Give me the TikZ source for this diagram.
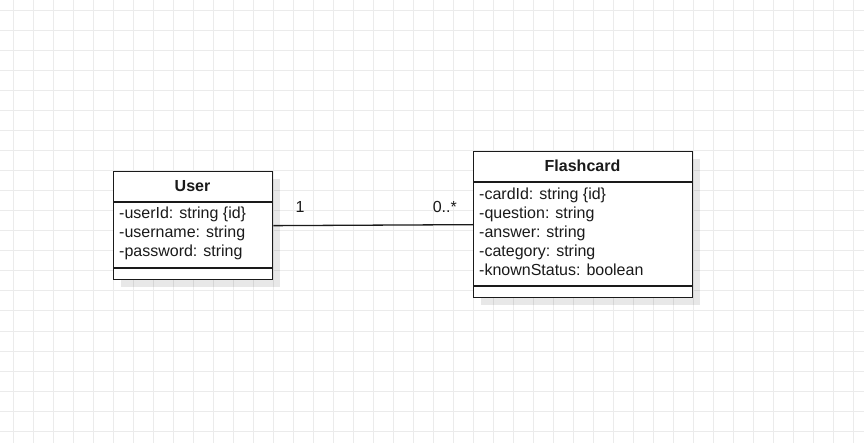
\documentclass[tikz,border=0pt]{standalone}
\usepackage{fontspec}
\setmainfont{Liberation Sans}
\definecolor{gridcol}{HTML}{EBEBEB}
\definecolor{inkcol}{HTML}{1A1A1A}
\tikzset{
  gridline/.style={draw=gridcol, line width=1pt},
  umlbox/.style={draw=inkcol, line width=1.3pt, fill=white, inner sep=0pt},
  divider/.style={draw=inkcol, line width=1.3pt},
  shadowbox/.style={fill=black, opacity=0.09, draw=none},
  attr/.style={anchor=base west, inner sep=0pt, text=inkcol, font=\fontsize{16}{19}\selectfont},
  umltitle/.style={anchor=base, inner sep=0pt, text=inkcol, font=\bfseries\fontsize{16}{19}\selectfont},
  connector/.style={draw=inkcol, line width=1.3pt},
}
\begin{document}
\begin{tikzpicture}[x=1pt,y=-1pt]
\useasboundingbox (0,0) rectangle (864,443);
\fill[white] (0,0) rectangle (864,443);
\foreach \x in {13,33,...,853} \draw[gridline] (\x,0) -- (\x,443);
\foreach \y in {11,31,...,431} \draw[gridline] (0,\y) -- (864,\y);

% shadows
\fill[shadowbox] (121,179) rectangle (280,287);
\fill[shadowbox] (481,159) rectangle (700,305);

% User class
\node[umlbox, minimum width=159pt, minimum height=108pt, anchor=north west] (user) at (113,171) {};
\draw[divider] (user.west |- 0,202) -- (user.east |- 0,202);
\draw[divider] (user.west |- 0,268) -- (user.east |- 0,268);
\node[umltitle] (usertitle) at (192.5,192) {User};
\node[attr] (u1) at (119,219) {-userId: string \{id\}};
\node[attr] (u2) at (119,238) {-username: string};
\node[attr] (u3) at (119,257) {-password: string};

% Flashcard class
\node[umlbox, minimum width=219pt, minimum height=146pt, anchor=north west] (flash) at (473,151) {};
\draw[divider] (flash.west |- 0,182) -- (flash.east |- 0,182);
\draw[divider] (flash.west |- 0,286) -- (flash.east |- 0,286);
\node[umltitle] (flashtitle) at (582.5,172) {Flashcard};
\node[attr] (f1) at (479,200) {-cardId: string \{id\}};
\node[attr] (f2) at (479,219) {-question: string};
\node[attr] (f3) at (479,238) {-answer: string};
\node[attr] (f4) at (479,257) {-category: string};
\node[attr] (f5) at (479,275.5) {-knownStatus: boolean};

% association
\draw[connector] (user.east) -- (flash.west);
\node[attr] (m1) at (295.5,212.5) {1};
\node[attr, anchor=base east] (m2) at (457,212.5) {0..*};
\end{tikzpicture}
\end{document}
